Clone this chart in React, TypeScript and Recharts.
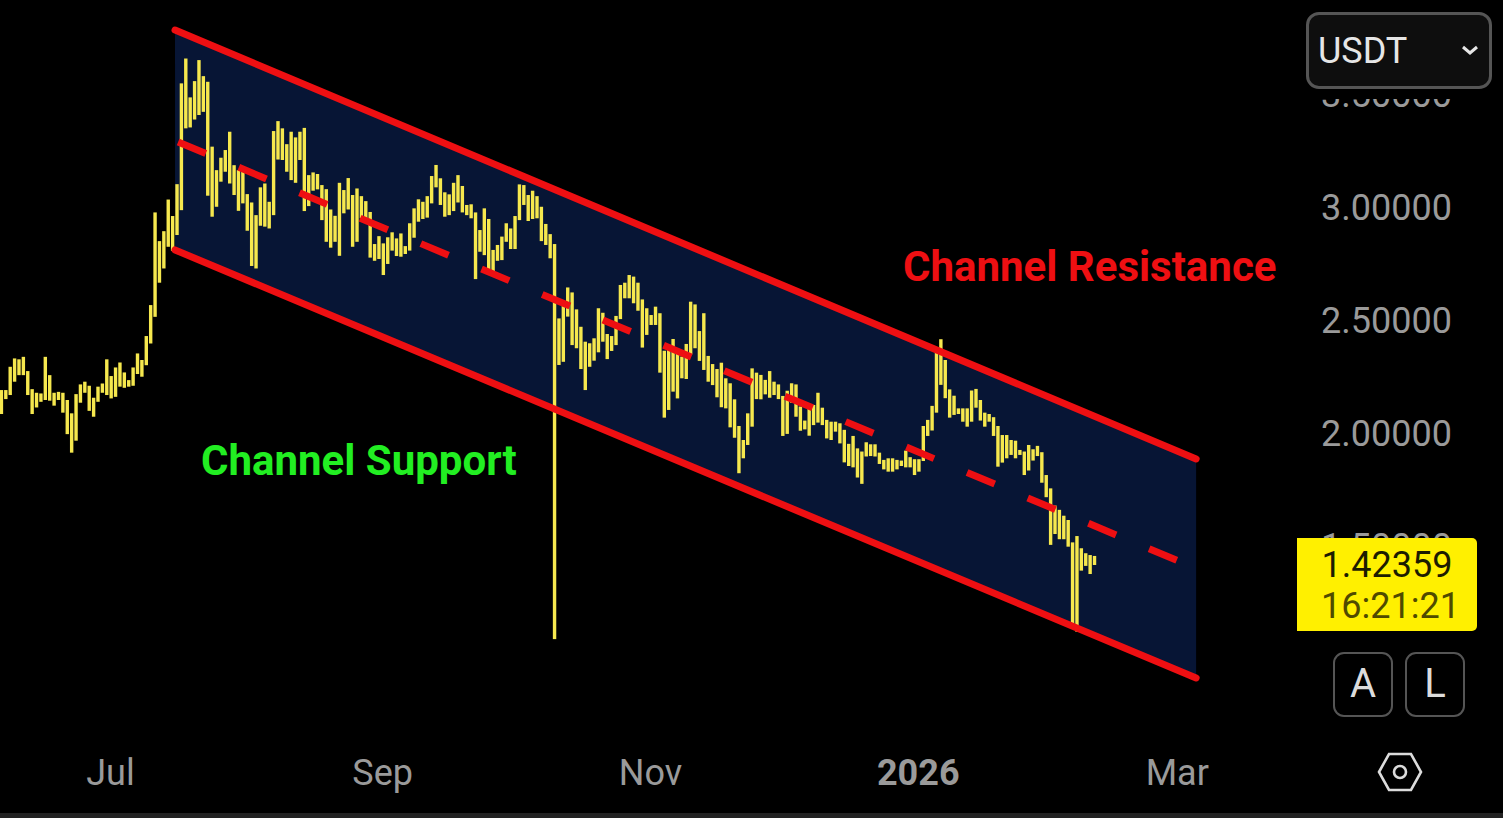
import { ComposedChart, Area, Bar, Line, XAxis, YAxis } from 'recharts'

// daily highs and lows, first bar is 25 days before Jul 1
const firstDay = -25
const highs = [
  2.190, 2.190, 2.293, 2.330, 2.326, 2.337, 2.274, 2.194, 2.178, 2.175,
  2.337, 2.256, 2.178, 2.182, 2.178, 2.146, 2.087, 2.172, 2.215, 2.227,
  2.209, 2.156, 2.205, 2.219, 2.326, 2.252, 2.290, 2.312, 2.268, 2.234,
  2.290, 2.352, 2.323, 2.429, 2.566, 2.976, 2.849, 2.893, 3.033, 2.960,
  3.101, 3.547, 3.657, 3.485, 3.557, 3.650, 3.579, 3.554, 3.267, 3.163,
  3.218, 3.252, 3.333, 3.185, 3.163, 3.181, 3.057, 3.020, 2.964, 3.087,
  3.104, 3.023, 3.336, 3.380, 3.348, 3.278, 3.333, 3.308, 3.333, 3.350,
  3.141, 3.153, 3.146, 3.097, 3.079, 2.989, 2.961, 3.107, 3.075, 3.128,
  3.053, 3.082, 3.048, 3.026, 2.978, 2.836, 2.871, 2.839, 2.866, 2.888,
  2.861, 2.883, 2.827, 2.928, 2.994, 3.034, 3.023, 3.048, 3.137, 3.186,
  3.127, 3.065, 3.056, 3.107, 3.141, 3.093, 3.009, 3.012, 2.976, 2.898,
  2.994, 2.947, 2.810, 2.832, 2.869, 2.928, 2.905, 2.960, 3.100, 3.097,
  3.053, 3.072, 3.048, 3.001, 2.925, 2.880, 2.836, 2.507, 2.581, 2.644,
  2.622, 2.547, 2.470, 2.404, 2.397, 2.419, 2.552, 2.532, 2.438, 2.429,
  2.518, 2.655, 2.665, 2.699, 2.692, 2.665, 2.591, 2.552, 2.522, 2.559,
  2.530, 2.364, 2.375, 2.416, 2.370, 2.338, 2.394, 2.581, 2.569, 2.451,
  2.530, 2.341, 2.305, 2.283, 2.311, 2.242, 2.220, 2.149, 2.031, 1.969,
  2.087, 2.286, 2.267, 2.257, 2.235, 2.274, 2.227, 2.215, 2.164, 2.187,
  2.220, 2.215, 2.117, 2.055, 2.112, 2.124, 2.178, 2.112, 2.058, 2.050,
  2.050, 2.043, 2.014, 1.952, 1.987, 1.932, 1.918, 1.959, 1.950, 1.950,
  1.913, 1.881, 1.888, 1.888, 1.881, 1.878, 1.922, 1.893, 1.884, 1.884,
  2.031, 2.058, 2.120, 2.370, 2.415, 2.323, 2.193, 2.165, 2.109, 2.109,
  2.109, 2.188, 2.195, 2.146, 2.090, 2.084, 2.070, 2.031, 1.991, 1.991,
  1.969, 1.966, 1.925, 1.918, 1.947, 1.928, 1.943, 1.915, 1.814, 1.755,
  1.679, 1.660, 1.634, 1.615, 1.516, 1.544, 1.490, 1.468, 1.460, 1.456,
]
const lows = [
  2.084, 2.150, 2.168, 2.227, 2.256, 2.256, 2.168, 2.084, 2.113, 2.138,
  2.146, 2.143, 2.121, 2.146, 2.090, 1.995, 1.913, 1.966, 2.134, 2.178,
  2.098, 2.072, 2.138, 2.178, 2.168, 2.153, 2.160, 2.205, 2.200, 2.205,
  2.209, 2.261, 2.249, 2.300, 2.396, 2.514, 2.665, 2.728, 2.824, 2.806,
  2.876, 2.986, 3.348, 3.352, 3.387, 3.407, 3.421, 3.050, 2.957, 3.001,
  3.112, 3.156, 3.104, 3.053, 2.983, 3.016, 2.895, 2.739, 2.728, 2.917,
  2.913, 2.905, 2.964, 3.210, 3.208, 3.156, 3.119, 3.107, 3.208, 2.982,
  3.004, 3.072, 3.078, 2.942, 2.846, 2.820, 2.846, 2.784, 2.972, 2.989,
  2.824, 2.846, 2.950, 2.930, 2.776, 2.762, 2.770, 2.699, 2.748, 2.807,
  2.783, 2.780, 2.792, 2.807, 2.864, 2.935, 2.947, 2.953, 3.016, 3.087,
  3.009, 2.957, 2.964, 2.982, 3.020, 2.976, 2.964, 2.950, 2.681, 2.802,
  2.787, 2.721, 2.703, 2.762, 2.765, 2.846, 2.814, 2.814, 2.942, 3.009,
  2.938, 2.947, 2.950, 2.849, 2.832, 2.773, 1.088, 2.301, 2.315, 2.515,
  2.389, 2.375, 2.283, 2.190, 2.293, 2.320, 2.357, 2.404, 2.327, 2.363,
  2.389, 2.504, 2.596, 2.596, 2.574, 2.541, 2.378, 2.434, 2.478, 2.478,
  2.267, 2.068, 2.102, 2.183, 2.153, 2.242, 2.239, 2.348, 2.375, 2.319,
  2.279, 2.227, 2.212, 2.158, 2.114, 2.109, 2.025, 1.979, 1.822, 1.888,
  1.947, 2.028, 2.150, 2.149, 2.171, 2.156, 2.168, 2.150, 1.987, 1.996,
  2.134, 2.072, 2.010, 2.016, 1.988, 2.035, 2.046, 2.035, 1.976, 1.969,
  2.006, 1.954, 1.870, 1.854, 1.848, 1.803, 1.775, 1.896, 1.898, 1.896,
  1.863, 1.839, 1.829, 1.829, 1.839, 1.854, 1.848, 1.848, 1.814, 1.829,
  1.876, 1.987, 2.011, 2.090, 2.213, 2.154, 2.068, 2.080, 2.084, 2.050,
  2.028, 2.050, 2.112, 2.055, 2.028, 2.050, 1.987, 1.851, 1.869, 1.888,
  1.903, 1.888, 1.903, 1.814, 1.834, 1.878, 1.898, 1.780, 1.716, 1.505,
  1.553, 1.530, 1.530, 1.497, 1.143, 1.121, 1.391, 1.412, 1.376, 1.416,
]

// channel drawing, anchored in day / price
const channelDays = [14.7, 247.3]
const channelUpper = [3.783, 1.885]
const channelLower = [2.81, 0.916]
const midDays = [15.4, 243.2]
const midPrices = [3.288, 1.434]

const priceTicks = [3.5, 3, 2.5, 2, 1.5]
const timeTicks = [0, 62, 123, 184, 243]
const timeLabels = ['Jul', 'Sep', 'Nov', '2026', 'Mar']

const bars = highs.map((high, i) => ({ day: firstDay + i, range: [lows[i], high] }))
const bandRows = channelDays.map((day, i) => ({
  day,
  band: [channelLower[i], channelUpper[i]],
  upper: channelUpper[i],
  lower: channelLower[i],
}))
const midRows = midDays.map((day, i) => ({ day, mid: midPrices[i] }))

const FONT = 'Roboto, sans-serif'
const BAR_W = 3.4

function TimeTick({ x, y, payload }: any) {
  const i = timeTicks.indexOf(payload.value)
  const label = timeLabels[i]
  return (
    <text
      x={x}
      y={y + 37}
      textAnchor="middle"
      fontFamily={FONT}
      fontSize={36}
      fontWeight={label === '2026' ? 700 : 400}
      fill="#9a9a9a"
    >
      {label}
    </text>
  )
}

// the scale gives a very narrow band on a number axis, keep the bar centre and widen it
function PriceBar({ x, y, width, height, fill }: any) {
  return <rect x={x + width / 2 - BAR_W / 2 + 0.7} y={y} width={BAR_W} height={height} fill={fill} />
}

const pos = (left: number, top: number, width: number, height: number) => ({
  position: 'absolute' as const,
  left,
  top,
  width,
  height,
  boxSizing: 'border-box' as const,
})

export default function App() {
  return (
    <div style={{ position: 'relative', width: 1503, height: 818, background: '#000', overflow: 'hidden', fontFamily: FONT }}>
      <style>{'html,body{margin:0;background:#000}'}</style>
      <ComposedChart width={1503} height={818} data={bars} margin={{ top: 0, right: 0, bottom: 0, left: 0 }}>
        <XAxis
          dataKey="day"
          type="number"
          domain={[-25.17, 270.96]}
          allowDataOverflow
          ticks={timeTicks}
          interval={0}
          height={78}
          axisLine={false}
          tickLine={false}
          tick={<TimeTick />}
        />
        <YAxis
          orientation="right"
          type="number"
          width={203}
          domain={[0.6416, 3.9159]}
          allowDataOverflow
          ticks={priceTicks}
          interval={0}
          axisLine={false}
          tickLine={false}
          tickMargin={15}
          tickFormatter={(v: number) => v.toFixed(5)}
          tick={{ fontFamily: FONT, fontSize: 36, fill: '#9a9a9a' }}
        />
        <Area data={bandRows} dataKey="band" type="linear" stroke="none" fill="#071535" fillOpacity={1} dot={false} activeDot={false} isAnimationActive={false} />
        <Line data={bandRows} dataKey="upper" type="linear" stroke="#ee0f12" strokeWidth={7} strokeLinecap="round" dot={false} activeDot={false} isAnimationActive={false} />
        <Line data={bandRows} dataKey="lower" type="linear" stroke="#ee0f12" strokeWidth={7} strokeLinecap="round" dot={false} activeDot={false} isAnimationActive={false} />
        <Line data={midRows} dataKey="mid" type="linear" stroke="#ee0f12" strokeWidth={7} strokeDasharray="30 35.8" dot={false} activeDot={false} isAnimationActive={false} />
        <Bar dataKey="range" fill="#f6e84e" shape={<PriceBar />} isAnimationActive={false} />
      </ComposedChart>

      <div style={{ ...pos(903, 241, 400, 52), color: '#ee0f12', fontSize: 42, fontWeight: 700, lineHeight: '52px', whiteSpace: 'nowrap' }}>Channel Resistance</div>
      <div style={{ ...pos(201, 435, 400, 52), color: '#22ee22', fontSize: 42, fontWeight: 700, lineHeight: '52px', whiteSpace: 'nowrap' }}>Channel Support</div>

      {/* right side controls sit on top of the price scale */}
      <div style={{ ...pos(1300, 0, 203, 99), background: '#000' }} />
      <div style={{ ...pos(1306, 12, 186, 77), background: '#0e0e0e', border: '3px solid #555', borderRadius: 13 }} />
      <div style={{ ...pos(1318, 27, 100, 48), color: '#e6e6e6', fontSize: 36, lineHeight: '48px' }}>USDT</div>
      <svg style={pos(1458, 40, 24, 20)} viewBox="0 0 24 20">
        <polyline points="5,7 12,13 19,7" fill="none" stroke="#e6e6e6" strokeWidth={3} />
      </svg>

      <div style={{ ...pos(1297, 538, 180, 93), background: '#fff000', borderRadius: '0 5px 5px 0' }} />
      <div style={{ ...pos(1297, 544, 180, 42), color: '#1c1c00', fontSize: 36, lineHeight: '42px', textAlign: 'center' }}>1.42359</div>
      <div style={{ ...pos(1297, 585, 180, 42), color: '#4f4a00', fontSize: 36, lineHeight: '42px', textAlign: 'center', paddingLeft: 7 }}>16:21:21</div>

      <div style={{ ...pos(1333, 652, 60, 65), border: '2.5px solid #555', borderRadius: 11, color: '#dcdcdc', fontSize: 40, lineHeight: '60px', textAlign: 'center' }}>A</div>
      <div style={{ ...pos(1405, 652, 60, 65), border: '2.5px solid #555', borderRadius: 11, color: '#dcdcdc', fontSize: 40, lineHeight: '60px', textAlign: 'center' }}>L</div>

      <svg style={pos(1376, 752, 48, 40)} viewBox="0 0 48 40">
        <polygon points="3,20 13,2 35,2 45,20 35,38 13,38" fill="none" stroke="#dcdcdc" strokeWidth={2.6} />
        <circle cx={24} cy={20} r={6} fill="none" stroke="#dcdcdc" strokeWidth={2.6} />
      </svg>
      <div style={{ ...pos(0, 813, 1503, 5), background: '#222' }} />
    </div>
  )
}
